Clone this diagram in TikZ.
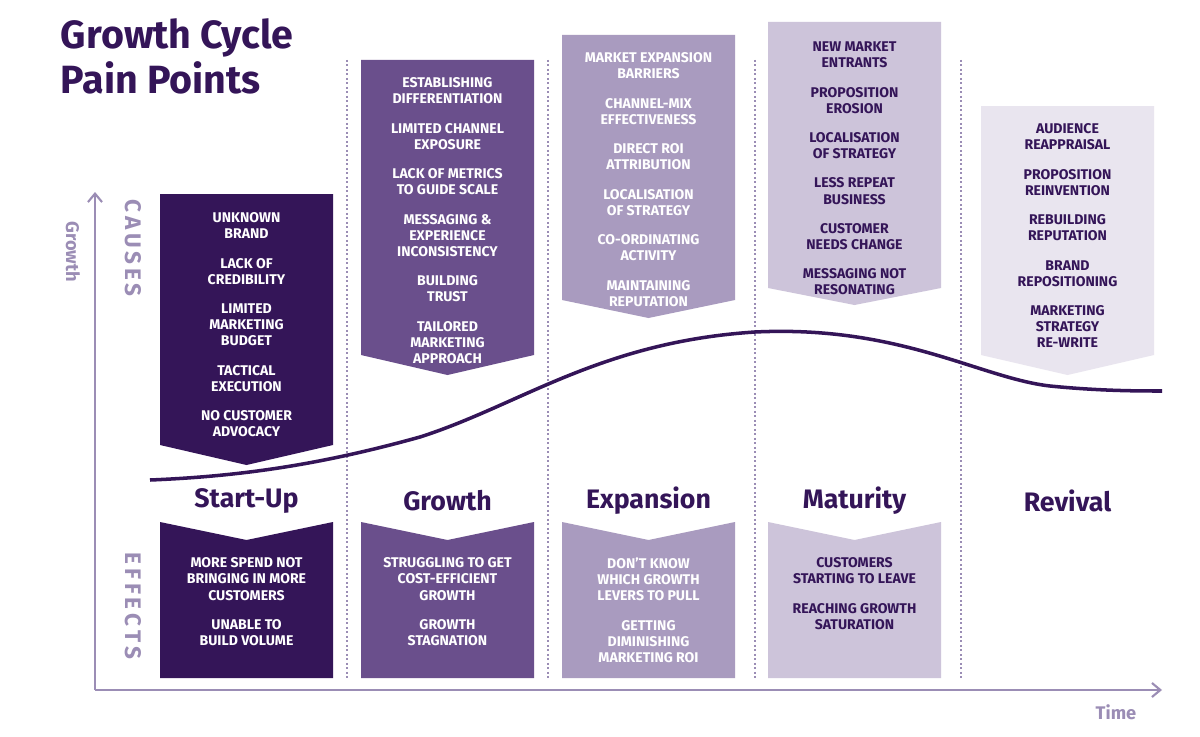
\documentclass[tikz,border=0pt]{standalone}
\usepackage{fontspec}
\usetikzlibrary{arrows.meta}
\setmainfont{Fira Sans}
\definecolor{c1}{HTML}{341558}
\definecolor{c2}{HTML}{6A4F8C}
\definecolor{c3}{HTML}{A99BBF}
\definecolor{c4}{HTML}{CDC4DA}
\definecolor{c5}{HTML}{E9E5EF}
\definecolor{ax}{HTML}{9B8DB5}
\begin{document}
\begin{tikzpicture}[x=0.025cm,y=-0.025cm,
 txt/.style={anchor=north,align=center,font=\fontsize{10}{11.4}\selectfont\bfseries},
 phase/.style={font=\fontsize{19}{21}\selectfont\bfseries,text=c1},
 divider/.style={ax,line width=1.2pt,dotted},
 axis/.style={ax,line width=1.5pt,-{Straight Barb[length=6pt,width=10pt]}}]
\useasboundingbox[fill=white] (0,0) rectangle (1200,736);
\node[anchor=north west,align=left,text=c1,font=\fontsize{28}{32}\selectfont\bfseries] (title) at (56,14) {Growth Cycle\\Pain Points};
\foreach \x in {347,548,755,961} \draw[divider] (\x,60) -- (\x,680);
% axes
\coordinate (o) at (95,690); \coordinate (ytop) at (95,192); \coordinate (xend) at (1162,690);
\draw[axis] (o) -- (ytop);
\draw[axis] (o) -- (xend);
\node[rotate=-90,text=ax,font=\fontsize{13}{14}\selectfont\bfseries] (gl) at (73,252) {Growth};
\node[text=ax,font=\fontsize{13}{14}\selectfont\bfseries] (tl) at (1116,712) {Time};
\node[rotate=-90,text=ax,font=\fontsize{16}{18}\selectfont\bfseries] (ca) at (133,248) {C\,A\,U\,S\,E\,S};
\node[rotate=-90,text=ax,font=\fontsize{16}{18}\selectfont\bfseries] (ef) at (133,606) {E\,F\,F\,E\,C\,T\,S};
% cause boxes
\fill[c1] (160,194) -- (333,194) -- (333,445) -- (246.5,465) -- (160,445) -- cycle;
\fill[c2] (361,60) -- (534,60) -- (534,355) -- (447.5,375) -- (361,355) -- cycle;
\fill[c3] (562,35) -- (735,35) -- (735,300) -- (648.5,318) -- (562,300) -- cycle;
\fill[c4] (768,22) -- (941,22) -- (941,288) -- (854.5,305) -- (768,288) -- cycle;
\fill[c5] (981,106) -- (1154,106) -- (1154,355) -- (1067.5,375) -- (981,355) -- cycle;
% curve
\draw[c1,line width=2.5pt] (150,480) .. controls (250,476) and (330,462) .. (420,437)
 .. controls (520,405) and (600,342) .. (755,332)
 .. controls (900,325) and (980,378) .. (1050,386)
 .. controls (1100,391) and (1140,391) .. (1162,391);
% effect boxes
\foreach \l/\c in {160/c1,361/c2,562/c3,768/c4}
 \fill[\c] (\l,522) -- ({\l+86.5},540) -- ({\l+173},522) -- ({\l+173},678) -- (\l,678) -- cycle;
% phases
\node[phase] (p1) at (246.5,501) {Start-Up};
\node[phase] (p2) at (447.5,501) {Growth};
\node[phase] (p3) at (648.5,501) {Expansion};
\node[phase] (p4) at (854.5,501) {Maturity};
\node[phase] (p5) at (1067.5,501) {Revival};
% cause texts
\node[txt,text=white] (t1) at (246.5,208) {UNKNOWN\\BRAND\\[9.5pt]LACK OF\\CREDIBILITY\\[9.5pt]LIMITED\\MARKETING\\BUDGET\\[9.5pt]TACTICAL\\EXECUTION\\[9.5pt]NO CUSTOMER\\ADVOCACY};
\node[txt,text=white] (t2) at (447.5,73) {ESTABLISHING\\DIFFERENTIATION\\[9.5pt]LIMITED CHANNEL\\EXPOSURE\\[9.5pt]LACK OF METRICS\\TO GUIDE SCALE\\[9.5pt]MESSAGING \&\\EXPERIENCE\\INCONSISTENCY\\[9.5pt]BUILDING\\TRUST\\[9.5pt]TAILORED\\MARKETING\\APPROACH};
\node[txt,text=white] (t3) at (648.5,48) {MARKET EXPANSION\\BARRIERS\\[9.5pt]CHANNEL-MIX\\EFFECTIVENESS\\[9.5pt]DIRECT ROI\\ATTRIBUTION\\[9.5pt]LOCALISATION\\OF STRATEGY\\[9.5pt]CO-ORDINATING\\ACTIVITY\\[9.5pt]MAINTAINING\\REPUTATION};
\node[txt,text=c1] (t4) at (854.5,37) {NEW MARKET\\ENTRANTS\\[9.5pt]PROPOSITION\\EROSION\\[9.5pt]LOCALISATION\\OF STRATEGY\\[9.5pt]LESS REPEAT\\BUSINESS\\[9.5pt]CUSTOMER\\NEEDS CHANGE\\[9.5pt]MESSAGING NOT\\RESONATING};
\node[txt,text=c1] (t5) at (1067.5,119) {AUDIENCE\\REAPPRAISAL\\[9.5pt]PROPOSITION\\REINVENTION\\[9.5pt]REBUILDING\\REPUTATION\\[9.5pt]BRAND\\REPOSITIONING\\[9.5pt]MARKETING\\STRATEGY\\RE-WRITE};
% effect texts
\node[txt,text=white] (e1) at (246.5,553) {MORE SPEND NOT\\BRINGING IN MORE\\CUSTOMERS\\[9.5pt]UNABLE TO\\BUILD VOLUME};
\node[txt,text=white] (e2) at (447.5,553) {STRUGGLING TO GET\\COST-EFFICIENT\\GROWTH\\[9.5pt]GROWTH\\STAGNATION};
\node[txt,text=white] (e3) at (648.5,553) {DON’T KNOW\\WHICH GROWTH\\LEVERS TO PULL\\[9.5pt]GETTING\\DIMINISHING\\MARKETING ROI};
\node[txt,text=c1] (e4) at (854.5,553) {CUSTOMERS\\STARTING TO LEAVE\\[9.5pt]REACHING GROWTH\\SATURATION};
\end{tikzpicture}
\end{document}
